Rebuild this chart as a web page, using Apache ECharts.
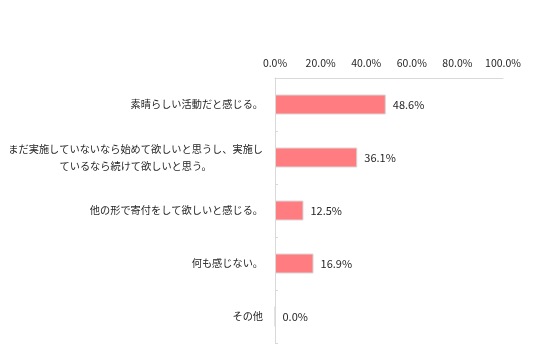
<!DOCTYPE html>
<html><head><meta charset="utf-8">
<script src="https://cdn.jsdelivr.net/npm/echarts@6/dist/echarts.min.js"></script>
<style>html,body{margin:0;padding:0;background:#fff}#c{width:536px;height:356px}</style>
</head><body><div id="c"></div>
<script>
var categories = ['素晴らしい活動だと感じる。', 'まだ実施していないなら始めて欲しいと思うし、実施し\nているなら続けて欲しいと思う。', '他の形で寄付をして欲しいと感じる。', '何も感じない。', 'その他'];
var values = [48.6, 36.1, 12.5, 16.9, 0.0];
var tickLabels = ['0.0%', '20.0%', '40.0%', '60.0%', '80.0%', '100.0%'];
var font = '"Noto Sans CJK JP", "Noto Sans", sans-serif';
var chart = echarts.init(document.getElementById('c'));
chart.setOption({
  animation: false,
  grid: {left: 275, right: 33, top: 78, bottom: 13},
  xAxis: {
    type: 'value', position: 'top', min: 0, max: 100, interval: 20,
    axisLine: {show: true, lineStyle: {color: '#d9d9d9', width: 1}},
    axisTick: {show: false},
    splitLine: {show: false},
    axisLabel: {margin: 10, fontSize: 10.5, color: '#262626', fontFamily: font,
      formatter: function (v) { return tickLabels[Math.round(v / 20)]; }}
  },
  yAxis: {
    type: 'category', data: categories, inverse: true,
    axisLine: {show: true, lineStyle: {color: '#d9d9d9', width: 1}},
    axisTick: {show: true, inside: true, length: 3, lineStyle: {color: '#d9d9d9'}},
    axisLabel: {margin: 12, fontSize: 10, color: '#262626', fontFamily: font, lineHeight: 17,
      formatter: function (v) { return '{c|' + v + '}'; },
      rich: {c: {align: 'center', fontSize: 10.2, color: '#262626', fontFamily: font, lineHeight: 17}}}
  },
  series: [{
    type: 'bar', data: values, barWidth: 20,
    itemStyle: {color: '#FF7C80', borderColor: '#d9d9d9', borderWidth: 1},
    label: {show: true, position: 'right', distance: 7, fontSize: 11, color: '#262626', fontFamily: font,
      formatter: function (p) { return p.value.toFixed(1) + '%'; }}
  }]
});
</script></body></html>
